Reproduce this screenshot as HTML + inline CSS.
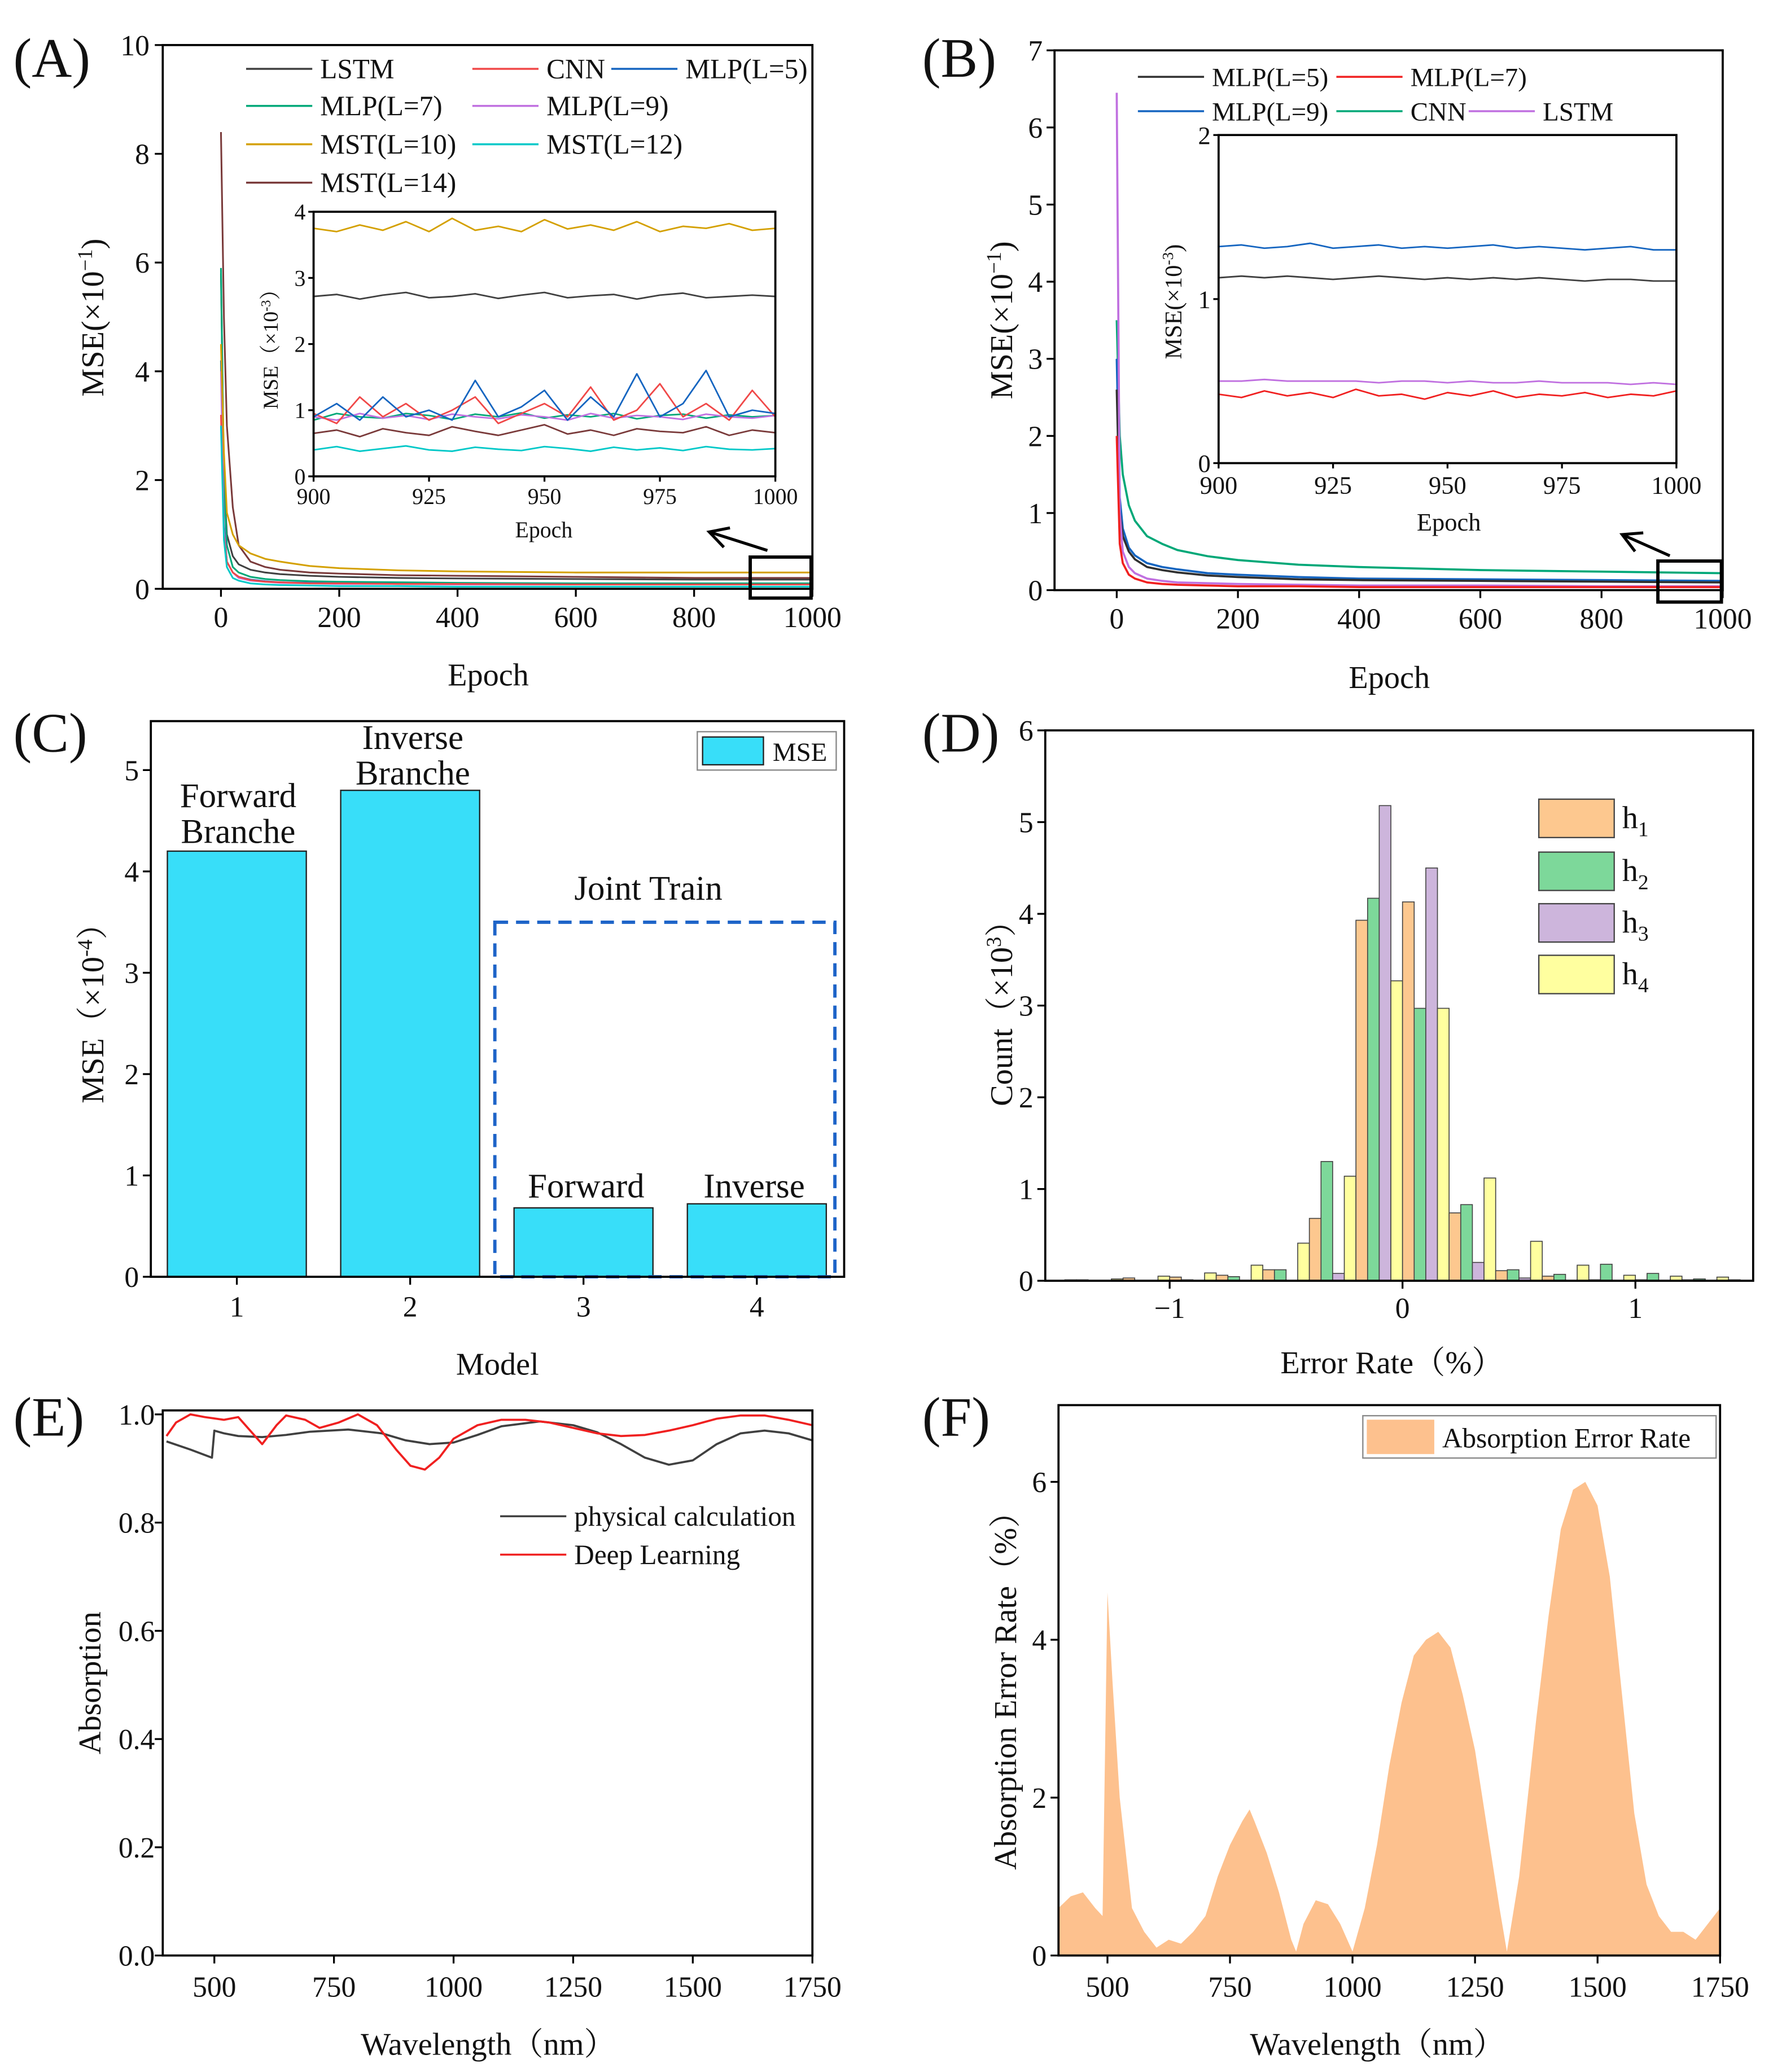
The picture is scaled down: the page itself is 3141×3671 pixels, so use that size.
<!DOCTYPE html>
<html><head><meta charset="utf-8"><title>Training results figure</title>
<style>
html,body{margin:0;padding:0;background:#fff;}
svg{display:block;font-family:"Liberation Serif","Noto Serif CJK SC",serif;}
text{fill:#111;}
</style></head>
<body>
<svg id="fig" xmlns="http://www.w3.org/2000/svg" width="3141" height="3671" viewBox="0 0 1340 1566">
<rect x="0" y="0" width="1340" height="1566" fill="#fff"/>
</svg>
<script>
// ---------- Panel A data ----------
const epochs=[0,5,10,20,30,50,75,100,150,200,300,400,600,800,1000];
const aLSTM=[5.8,2,1,0.6,0.45,0.35,0.3,0.27,0.24,0.22,0.2,0.19,0.18,0.17,0.17];
const aCNN=[3.2,1.0,0.5,0.3,0.22,0.16,0.13,0.12,0.1,0.1,0.09,0.09,0.08,0.08,0.08];
const aMLP5=[4.2,1.2,0.5,0.3,0.22,0.17,0.14,0.12,0.11,0.1,0.09,0.09,0.08,0.08,0.08];
const aMLP7=[5.9,2,0.8,0.4,0.3,0.22,0.18,0.16,0.14,0.13,0.12,0.11,0.1,0.1,0.1];
const aMLP9=[4.0,1.1,0.5,0.3,0.2,0.15,0.13,0.11,0.1,0.09,0.09,0.08,0.08,0.08,0.08];
const aMST10=[4.5,2.5,1.4,1.0,0.8,0.65,0.55,0.5,0.42,0.38,0.34,0.32,0.3,0.3,0.3];
const aMST12=[3.0,0.9,0.4,0.2,0.15,0.1,0.08,0.07,0.06,0.05,0.05,0.04,0.04,0.04,0.04];
const aMST14=[8.4,5,3,1.5,0.8,0.5,0.4,0.35,0.3,0.28,0.25,0.24,0.22,0.2,0.2];
const insetEpochs=[900,905,910,915,920,925,930,935,940,945,950,955,960,965,970,975,980,985,990,995,1000];
const iMST10=[3.75,3.7,3.8,3.72,3.85,3.7,3.9,3.72,3.78,3.7,3.88,3.74,3.8,3.72,3.85,3.7,3.78,3.75,3.82,3.72,3.75];
const iLSTM=[2.72,2.75,2.68,2.74,2.78,2.7,2.72,2.76,2.69,2.74,2.78,2.7,2.73,2.75,2.68,2.74,2.77,2.7,2.72,2.74,2.72];
const iMLP5=[0.9,1.1,0.85,1.2,0.9,1.0,0.85,1.45,0.9,1.05,1.3,0.85,1.2,0.9,1.55,0.9,1.1,1.6,0.9,1.0,0.95];
const iCNN=[0.95,0.8,1.2,0.9,1.1,0.85,1.0,1.2,0.8,0.95,1.1,0.9,1.35,0.85,1.0,1.4,0.9,1.1,0.85,1.3,0.9];
const iMLP7=[0.85,0.95,0.9,0.88,0.95,0.92,0.86,0.94,0.9,0.96,0.88,0.93,0.9,0.95,0.87,0.92,0.94,0.88,0.93,0.9,0.92];
const iMLP9=[0.9,0.85,0.95,0.88,0.92,0.86,0.94,0.9,0.87,0.93,0.9,0.85,0.95,0.88,0.92,0.9,0.86,0.94,0.9,0.88,0.92];
const iMST14=[0.65,0.7,0.6,0.72,0.66,0.62,0.75,0.68,0.62,0.7,0.78,0.64,0.7,0.62,0.72,0.68,0.66,0.75,0.62,0.7,0.66];
const iMST12=[0.4,0.45,0.38,0.42,0.46,0.4,0.38,0.44,0.41,0.39,0.45,0.42,0.38,0.44,0.4,0.43,0.39,0.45,0.41,0.4,0.42];
// ---------- Panel B data ----------
const bMLP5=[2.6,1.0,0.7,0.5,0.4,0.3,0.26,0.23,0.19,0.17,0.14,0.13,0.12,0.11,0.1];
const bMLP7=[2.0,0.6,0.35,0.2,0.15,0.1,0.08,0.07,0.06,0.05,0.05,0.04,0.04,0.04,0.04];
const bMLP9=[3.0,1.2,0.8,0.55,0.45,0.35,0.3,0.27,0.22,0.2,0.17,0.15,0.14,0.13,0.12];
const bCNN=[3.5,2.0,1.5,1.1,0.9,0.7,0.6,0.52,0.44,0.39,0.33,0.3,0.26,0.24,0.22];
const bLSTM=[6.45,1.0,0.5,0.3,0.22,0.15,0.12,0.1,0.09,0.08,0.07,0.06,0.06,0.05,0.05];
const biMLP9=[1.32,1.33,1.31,1.32,1.34,1.31,1.32,1.33,1.31,1.32,1.31,1.32,1.33,1.31,1.32,1.31,1.3,1.31,1.32,1.3,1.3];
const biMLP5=[1.13,1.14,1.13,1.14,1.13,1.12,1.13,1.14,1.13,1.12,1.13,1.12,1.13,1.12,1.13,1.12,1.11,1.12,1.12,1.11,1.11];
const biLSTM=[0.5,0.5,0.51,0.5,0.5,0.5,0.5,0.49,0.5,0.5,0.49,0.5,0.49,0.49,0.5,0.49,0.49,0.49,0.48,0.49,0.48];
const biMLP7=[0.42,0.4,0.44,0.41,0.43,0.4,0.45,0.41,0.42,0.39,0.43,0.41,0.44,0.4,0.42,0.41,0.43,0.4,0.42,0.41,0.44];
// ---------- Panel C data ----------
const cModels=[1,2,3,4];
const cMSE=[4.2,4.8,0.68,0.72];
// ---------- Panel D data (bins of width 0.2 starting at -1.45) ----------
const dBinStarts=[-1.45,-1.25,-1.05,-0.85,-0.65,-0.45,-0.25,-0.05,0.15,0.35,0.55,0.75,0.95,1.15,1.35];
const dH4=[0.01,0.02,0.05,0.085,0.17,0.41,1.14,3.27,2.97,1.12,0.43,0.17,0.06,0.05,0.04];
const dH1=[0.01,0.03,0.04,0.06,0.12,0.68,3.93,4.13,0.74,0.11,0.05,0.01,0.01,0.01,0.01];
const dH2=[0.005,0.005,0.01,0.045,0.12,1.30,4.17,2.97,0.83,0.12,0.07,0.18,0.08,0.02,0];
const dH3=[0,0,0,0,0,0.08,5.18,4.5,0.2,0.03,0,0,0,0,0];
// ---------- Panel E data ----------
const ePhysWl=[400,450,495,500,520,550,600,650,700,780,850,900,950,1000,1050,1100,1180,1250,1300,1350,1400,1450,1500,1550,1600,1650,1700,1750];
const ePhys=[0.95,0.935,0.92,0.97,0.965,0.96,0.958,0.962,0.968,0.972,0.965,0.952,0.945,0.948,0.962,0.978,0.987,0.98,0.967,0.945,0.92,0.907,0.915,0.945,0.965,0.97,0.965,0.952];
const eDLWl=[400,420,450,480,520,550,580,600,630,650,690,720,760,800,840,880,910,940,970,1000,1050,1100,1150,1200,1250,1300,1350,1400,1450,1500,1550,1600,1650,1700,1750];
const eDL=[0.96,0.985,1.0,0.995,0.99,0.995,0.965,0.945,0.98,0.998,0.99,0.975,0.985,1.0,0.98,0.935,0.905,0.898,0.92,0.955,0.98,0.99,0.99,0.985,0.975,0.965,0.96,0.962,0.97,0.98,0.992,0.998,0.998,0.99,0.98];
// ---------- Panel F data ----------
const fWl=[400,425,450,475,490,500,510,525,550,575,600,625,650,675,700,725,750,775,790,800,825,850,875,885,900,925,950,975,1000,1025,1050,1075,1100,1125,1150,1175,1200,1225,1250,1275,1300,1315,1340,1375,1400,1425,1450,1475,1500,1525,1550,1575,1600,1625,1650,1675,1700,1725,1750];
const fErr=[0.6,0.75,0.8,0.6,0.5,4.6,3.5,2.0,0.6,0.3,0.1,0.2,0.15,0.3,0.5,1.0,1.4,1.7,1.85,1.7,1.3,0.8,0.2,0.05,0.4,0.7,0.65,0.4,0.05,0.6,1.4,2.4,3.2,3.8,4.0,4.1,3.9,3.3,2.6,1.6,0.6,0.05,1.0,3.0,4.3,5.4,5.9,6.0,5.7,4.8,3.3,1.8,0.9,0.5,0.3,0.3,0.2,0.4,0.6];

const NS='http://www.w3.org/2000/svg';
const svg=document.getElementById('fig');
function mk(tag,parent,name){
  const el=document.createElementNS(NS,tag);
  
  
  parent.appendChild(el);
  return el;
}
function set(el,o){for(const k in o)el.setAttribute(k,o[k]);return el;}
function txt(parent,name,x,y,s,size,anchor,extra){
  const t=mk('text',parent,name);
  set(t,{x:x,y:y,'font-size':size,'text-anchor':anchor||'middle'});
  if(extra)set(t,extra);
  t.textContent=s;return t;
}
function lin(a0,a1,p0,p1){return v=>p0+(v-a0)*(p1-p0)/(a1-a0);}
function box(g,name,x0,y0,x1,y1){
  const r=mk('rect',g,name);
  set(r,{x:x0,y:y0,width:x1-x0,height:y1-y0,fill:'none',stroke:'#000','stroke-width':1.6});
}
function xTicks(g,xs,vals,labels,y0,ly,size,len){
  vals.forEach((v,i)=>{
    const l=mk('line',g,'x-tick');
    set(l,{x1:xs(v),x2:xs(v),y1:y0,y2:y0+len,stroke:'#000','stroke-width':1.4});
    txt(g,'x-tick-label',xs(v),ly,labels[i],size);
  });
}
function yTicks(g,ys,vals,labels,x0,lx,size,len){
  vals.forEach((v,i)=>{
    const l=mk('line',g,'y-tick');
    set(l,{x1:x0,x2:x0-len,y1:ys(v),y2:ys(v),stroke:'#000','stroke-width':1.4});
    txt(g,'y-tick-label',lx,ys(v)+size*0.35,labels[i],size,'end');
  });
}
function poly(g,name,xs,ys,X,Y,color,w){
  const p=mk('polyline',g,name);
  set(p,{points:X.map((x,i)=>xs(x).toFixed(2)+','+ys(Y[i]).toFixed(2)).join(' '),fill:'none',stroke:color,'stroke-width':w||1.3,'stroke-linejoin':'round'});
  return p;
}
function rotTitle(g,name,x,y,parts,size){
  const t=mk('text',g,name);
  set(t,{x:x,y:y,'font-size':size,'text-anchor':'middle',transform:'rotate(-90 '+x+' '+y+')'});
  parts.forEach(p=>{const s=document.createElementNS(NS,'tspan');
    if(p[1]){s.setAttribute('baseline-shift','super');s.setAttribute('font-size',size*0.65);}
    s.textContent=p[0];t.appendChild(s);});
  return t;
}
function arrow(g,name,x1,y1,x2,y2){
  const l=mk('line',g,name);
  set(l,{x1:x1,y1:y1,x2:x2,y2:y2,stroke:'#000','stroke-width':2.2});
  const a=Math.atan2(y2-y1,x2-x1),L=16;
  const h=mk('polyline',g,name+'-head');
  set(h,{points:[[x2-L*Math.cos(a-0.5),y2-L*Math.sin(a-0.5)],[x2,y2],[x2-L*Math.cos(a+0.5),y2-L*Math.sin(a+0.5)]].map(p=>p.join(',')).join(' '),fill:'none',stroke:'#000','stroke-width':2.2});
}
function legLine(g,name,x,y,color,label,size){
  const l=mk('line',g,name+'-swatch');
  set(l,{x1:x,x2:x+50,y1:y,y2:y,stroke:color,'stroke-width':1.5});
  txt(g,name+'-label',x+56,y+7,label,size,'start');
}
const C={LSTM:'#404040',CNN:'#f04848',MLP5:'#1565c0',MLP7:'#00a878',MLP9:'#c070e0',MST10:'#d4a000',MST12:'#00c8c8',MST14:'#7a3a3a'};

// ===== Panel A =====
(function(){
  const g=mk('g',svg,'panel-a');
  txt(g,'panel-a-letter',10,58,'(A)',42,'start');
  const xs=lin(0,1000,167,614), ys=lin(0,10,445,34);
  poly(g,'line-mst14',xs,ys,epochs,aMST14,C.MST14);
  poly(g,'line-lstm',xs,ys,epochs,aLSTM,C.LSTM);
  poly(g,'line-mlp7',xs,ys,epochs,aMLP7,C.MLP7);
  poly(g,'line-mlp5',xs,ys,epochs,aMLP5,C.MLP5);
  poly(g,'line-mlp9',xs,ys,epochs,aMLP9,C.MLP9);
  poly(g,'line-cnn',xs,ys,epochs,aCNN,C.CNN);
  poly(g,'line-mst12',xs,ys,epochs,aMST12,C.MST12);
  poly(g,'line-mst10',xs,ys,epochs,aMST10,C.MST10);
  box(g,'plot-frame-a',123,34,614,445);
  xTicks(g,xs,[0,200,400,600,800,1000],['0','200','400','600','800','1000'],445,474,22,6);
  yTicks(g,ys,[0,2,4,6,8,10],['0','2','4','6','8','10'],123,113,22,6);
  rotTitle(g,'y-axis-title-a',78,240,[['MSE(×10'],['−1',1],[')']],24);
  txt(g,'x-axis-title-a',369,518,'Epoch',24);
  const L=[[186,52,C.LSTM,'LSTM'],[357,52,C.CNN,'CNN'],[462,52,C.MLP5,'MLP(L=5)'],[186,80,C.MLP7,'MLP(L=7)'],[357,80,C.MLP9,'MLP(L=9)'],[186,109,C.MST10,'MST(L=10)'],[357,109,C.MST12,'MST(L=12)'],[186,138,C.MST14,'MST(L=14)']];
  L.forEach(e=>legLine(g,'legend-entry-a',e[0],e[1],e[2],e[3],21));
  const zr=mk('rect',g,'zoom-region-box-a');
  set(zr,{x:567,y:421,width:46,height:31,fill:'none',stroke:'#000','stroke-width':2.5});
  arrow(g,'zoom-arrow-a',580,416,536,402);
  // inset
  const ig=mk('g',g,'inset-a');
  const bg=mk('rect',ig,'inset-background-a');set(bg,{x:237,y:160,width:349,height:200,fill:'#fff'});
  const ixs=lin(900,1000,237,586), iys=lin(0,4,360,160);
  poly(ig,'inset-line-mst10',ixs,iys,insetEpochs,iMST10,C.MST10,1.2);
  poly(ig,'inset-line-lstm',ixs,iys,insetEpochs,iLSTM,C.LSTM,1.2);
  poly(ig,'inset-line-mlp7',ixs,iys,insetEpochs,iMLP7,C.MLP7,1.2);
  poly(ig,'inset-line-mlp9',ixs,iys,insetEpochs,iMLP9,C.MLP9,1.2);
  poly(ig,'inset-line-cnn',ixs,iys,insetEpochs,iCNN,C.CNN,1.2);
  poly(ig,'inset-line-mlp5',ixs,iys,insetEpochs,iMLP5,C.MLP5,1.2);
  poly(ig,'inset-line-mst14',ixs,iys,insetEpochs,iMST14,C.MST14,1.2);
  poly(ig,'inset-line-mst12',ixs,iys,insetEpochs,iMST12,C.MST12,1.2);
  box(ig,'inset-frame-a',237,160,586,360);
  xTicks(ig,ixs,[900,925,950,975,1000],['900','925','950','975','1000'],360,381,17,4);
  yTicks(ig,iys,[0,1,2,3,4],['0','1','2','3','4'],237,231,17,4);
  rotTitle(ig,'inset-y-title-a',210,260,[['MSE（×10'],['-3',1],['）']],16);
  txt(ig,'inset-x-title-a',411,406,'Epoch',17);
})();

// ===== Panel B =====
(function(){
  const g=mk('g',svg,'panel-b');
  txt(g,'panel-b-letter',697,58,'(B)',42,'start');
  const xs=lin(0,1000,844,1302), ys=lin(0,7,446,38);
  poly(g,'line-cnn',xs,ys,epochs,bCNN,'#00a878',1.6);
  poly(g,'line-mlp9',xs,ys,epochs,bMLP9,'#1565c0',1.6);
  poly(g,'line-mlp5',xs,ys,epochs,bMLP5,'#303030',1.6);
  poly(g,'line-lstm',xs,ys,epochs,bLSTM,'#c070e0',1.6);
  poly(g,'line-mlp7',xs,ys,epochs,bMLP7,'#f02020',1.6);
  box(g,'plot-frame-b',797,38,1302,446);
  xTicks(g,xs,[0,200,400,600,800,1000],['0','200','400','600','800','1000'],446,475,22,6);
  yTicks(g,ys,[0,1,2,3,4,5,6,7],['0','1','2','3','4','5','6','7'],797,788,22,6);
  rotTitle(g,'y-axis-title-b',765,242,[['MSE(×10'],['−1',1],[')']],24);
  txt(g,'x-axis-title-b',1050,520,'Epoch',24);
  legLine(g,'legend-entry-b',860,58,'#303030','MLP(L=5)',20);
  legLine(g,'legend-entry-b',1010,58,'#f02020','MLP(L=7)',20);
  legLine(g,'legend-entry-b',860,84,'#1565c0','MLP(L=9)',20);
  legLine(g,'legend-entry-b',1010,84,'#00a878','CNN',20);
  legLine(g,'legend-entry-b',1110,84,'#c070e0','LSTM',20);
  const zr=mk('rect',g,'zoom-region-box-b');
  set(zr,{x:1253,y:424,width:48,height:31,fill:'none',stroke:'#000','stroke-width':2.5});
  arrow(g,'zoom-arrow-b',1262,420,1226,404);
  const ig=mk('g',g,'inset-b');
  const bg=mk('rect',ig,'inset-background-b');set(bg,{x:921,y:102,width:346,height:248,fill:'#fff'});
  const ixs=lin(900,1000,921,1267), iys=lin(0,2,350,102);
  poly(ig,'inset-line-mlp9',ixs,iys,insetEpochs,biMLP9,'#1565c0',1.2);
  poly(ig,'inset-line-mlp5',ixs,iys,insetEpochs,biMLP5,'#404040',1.2);
  poly(ig,'inset-line-lstm',ixs,iys,insetEpochs,biLSTM,'#c070e0',1.2);
  poly(ig,'inset-line-mlp7',ixs,iys,insetEpochs,biMLP7,'#f02020',1.2);
  box(ig,'inset-frame-b',921,102,1267,350);
  xTicks(ig,ixs,[900,925,950,975,1000],['900','925','950','975','1000'],350,373,19,4);
  yTicks(ig,iys,[0,1,2],['0','1','2'],921,915,19,4);
  rotTitle(ig,'inset-y-title-b',893,228,[['MSE(×10'],['-3',1],[')']],18);
  txt(ig,'inset-x-title-b',1095,401,'Epoch',19);
})();

// ===== Panel C =====
(function(){
  const g=mk('g',svg,'panel-c');
  txt(g,'panel-c-letter',10,568,'(C)',42,'start');
  const xs=lin(1,4,179,572), ys=lin(0,5,965,582);
  cModels.forEach((m,i)=>{
    const r=mk('rect',g,'bar-model-'+m);
    set(r,{x:xs(m)-52.5,y:ys(cMSE[i]),width:105,height:ys(0)-ys(cMSE[i]),fill:'#38def9',stroke:'#222','stroke-width':1});
  });
  const dr=mk('rect',g,'joint-train-dashed-box');
  set(dr,{x:374,y:697,width:257,height:268,fill:'none',stroke:'#1e64c8','stroke-width':2.5,'stroke-dasharray':'10,6'});
  box(g,'plot-frame-c',114,545,638,965);
  xTicks(g,xs,cModels,['1','2','3','4'],965,995,22,6);
  yTicks(g,ys,[0,1,2,3,4,5],['0','1','2','3','4','5'],114,105,22,6);
  rotTitle(g,'y-axis-title-c',78,760,[['MSE（×10'],['-4',1],['）']],24);
  txt(g,'x-axis-title-c',376,1039,'Model',24);
  txt(g,'bar-label-forward-branche',180,610,'Forward',26);
  txt(g,'bar-label-forward-branche-2',180,637,'Branche',26);
  txt(g,'bar-label-inverse-branche',312,566,'Inverse',26);
  txt(g,'bar-label-inverse-branche-2',312,593,'Branche',26);
  txt(g,'joint-train-label',490,680,'Joint Train',26);
  txt(g,'bar-label-forward',443,905,'Forward',26);
  txt(g,'bar-label-inverse',570,905,'Inverse',26);
  const lb=mk('rect',g,'legend-box-c');set(lb,{x:527,y:553,width:105,height:29,fill:'#fff',stroke:'#888','stroke-width':1});
  const sw=mk('rect',g,'legend-swatch-mse');set(sw,{x:531,y:557,width:46,height:21,fill:'#38def9',stroke:'#222','stroke-width':1});
  txt(g,'legend-label-mse',584,575,'MSE',20,'start');
})();

// ===== Panel D =====
(function(){
  const g=mk('g',svg,'panel-d');
  txt(g,'panel-d-letter',697,568,'(D)',42,'start');
  const xs=lin(0,1,1060,1236), ys=lin(0,6,968,552);
  const series=[[dH4,'#ffff9f','h4'],[dH1,'#fdc88f','h1'],[dH2,'#7dd89a','h2'],[dH3,'#cdb5dc','h3']];
  dBinStarts.forEach((b,i)=>{
    series.forEach((s,j)=>{
      const v=s[0][i]; if(!v)return;
      const r=mk('rect',g,'bar-'+s[2]);
      set(r,{x:xs(b+0.05*j),y:ys(v),width:xs(0.05)-xs(0),height:ys(0)-ys(v),fill:s[1],stroke:'#444','stroke-width':0.7});
    });
  });
  box(g,'plot-frame-d',790,552,1325,968);
  xTicks(g,xs,[-1,0,1],['−1','0','1'],968,996,22,6);
  yTicks(g,ys,[0,1,2,3,4,5,6],['0','1','2','3','4','5','6'],790,781,22,6);
  rotTitle(g,'y-axis-title-d',765,760,[['Count（×10'],['3',1],['）']],24);
  txt(g,'x-axis-title-d',1052,1038,'Error Rate（%）',24);
  const leg=[['#fdc88f','1',604],['#7dd89a','2',644],['#cdb5dc','3',683],['#ffff9f','4',722]];
  leg.forEach(l=>{
    const r=mk('rect',g,'legend-swatch-h'+l[1]);
    set(r,{x:1163,y:l[2],width:57,height:29,fill:l[0],stroke:'#444','stroke-width':1});
    const t=mk('text',g,'legend-label-h'+l[1]);
    set(t,{x:1226,y:l[2]+22,'font-size':24,'text-anchor':'start'});
    t.textContent='h';
    const s=document.createElementNS(NS,'tspan');s.setAttribute('font-size',16);s.setAttribute('dy',6);s.textContent=l[1];t.appendChild(s);
  });
})();

// ===== Panel E =====
(function(){
  const g=mk('g',svg,'panel-e');
  txt(g,'panel-e-letter',10,1085,'(E)',42,'start');
  const xs=lin(500,1750,162,614), ys=lin(0,1,1478,1069);
  poly(g,'line-physical-calculation',xs,ys,ePhysWl,ePhys,'#404040',1.6);
  poly(g,'line-deep-learning',xs,ys,eDLWl,eDL,'#f02020',1.6);
  box(g,'plot-frame-e',123,1066,614,1478);
  xTicks(g,xs,[500,750,1000,1250,1500,1750],['500','750','1000','1250','1500','1750'],1478,1509,22,6);
  yTicks(g,ys,[0,0.2,0.4,0.6,0.8,1.0],['0.0','0.2','0.4','0.6','0.8','1.0'],123,117,22,6);
  rotTitle(g,'y-axis-title-e',76,1272,[['Absorption']],24);
  txt(g,'x-axis-title-e',369,1553,'Wavelength（nm）',24);
  legLine(g,'legend-entry-physical',378,1146,'#404040','physical calculation',21);
  legLine(g,'legend-entry-deep-learning',378,1175,'#f02020','Deep Learning',21);
})();

// ===== Panel F =====
(function(){
  const g=mk('g',svg,'panel-f');
  txt(g,'panel-f-letter',697,1085,'(F)',42,'start');
  const xs=lin(500,1750,837,1300), ys=lin(0,6,1478,1120);
  const a=mk('polygon',g,'area-absorption-error-rate');
  const pts=fWl.map((w,i)=>xs(w).toFixed(2)+','+ys(fErr[i]).toFixed(2));
  pts.push(xs(1750)+','+ys(0));pts.unshift(xs(400)+','+ys(0));
  set(a,{points:pts.join(' '),fill:'#fdc18e',stroke:'none'});
  box(g,'plot-frame-f',800,1062,1300,1478);
  xTicks(g,xs,[500,750,1000,1250,1500,1750],['500','750','1000','1250','1500','1750'],1478,1509,22,6);
  yTicks(g,ys,[0,2,4,6],['0','2','4','6'],800,791,22,6);
  rotTitle(g,'y-axis-title-f',768,1272,[['Absorption Error Rate（%）']],24);
  txt(g,'x-axis-title-f',1041,1553,'Wavelength（nm）',24);
  const lb=mk('rect',g,'legend-box-f');set(lb,{x:1030,y:1070,width:267,height:32,fill:'#fff',stroke:'#888','stroke-width':1});
  const sw=mk('rect',g,'legend-swatch-f');set(sw,{x:1033,y:1073,width:51,height:26,fill:'#fdc18e'});
  txt(g,'legend-label-f',1090,1094,'Absorption Error Rate',21,'start');
})();
</script>
</body></html>
